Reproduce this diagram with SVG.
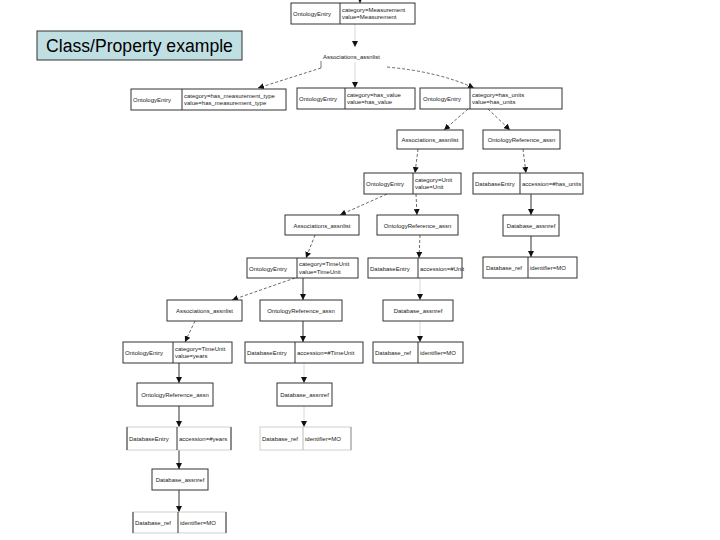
<svg xmlns="http://www.w3.org/2000/svg" width="720" height="540" viewBox="0 0 720 540">
<style>
.box{fill:#fff;stroke:#333;stroke-width:1}
.faintbox{fill:#fff;stroke:#d0d0d0;stroke-width:1}
.div{stroke:#333;stroke-width:1}
.t{font-family:"Liberation Sans",Arial,sans-serif;font-size:6px;fill:#222}
.c{text-anchor:middle}
.dash{fill:none;stroke:#444;stroke-width:0.8;stroke-dasharray:3,2;marker-end:url(#ah)}
.solid{fill:none;stroke:#333;stroke-width:1;marker-end:url(#ah)}
.faint{fill:none;stroke:#d8d8d8;stroke-width:1;marker-end:url(#ah)}
.plain{fill:none;stroke:#555;stroke-width:0.8}
</style>
<defs>
<marker id="ah" markerUnits="userSpaceOnUse" markerWidth="6" markerHeight="6" refX="6" refY="3" orient="auto">
<path d="M0,0 L6,3 L0,6 z" fill="#111"/>
</marker>
</defs>
<rect width="720" height="540" fill="#fff"/>

<g id="title">
<rect x="37" y="31" width="205" height="29" fill="#c0dfe3" stroke="#333" stroke-width="1"/>
<text x="139.5" y="52" text-anchor="middle" font-family="'Liberation Sans',Arial,sans-serif" font-size="17.6" fill="#000">Class/Property example</text>
</g>

<g id="connectors">
<path class="solid" d="M360,-4 L360,3"/>
<path class="faint" d="M355,24 L355,47"/>
<path class="plain" d="M321,61 L321,68"/>
<path class="dash" d="M321,68 L258,88"/>
<path class="faint" d="M355,62 L355,88"/>
<path class="dash" d="M387,67 Q440,72 474,88"/>
<path class="dash" d="M468,109 L444,130"/>
<path class="dash" d="M488,109 L510,130"/>
<path class="dash" d="M418,149 L415,173"/>
<path class="dash" d="M523,149 L526,173"/>
<path class="dash" d="M387,194 L340,215"/>
<path class="dash" d="M416,194 L417,215"/>
<path class="solid" d="M531,194 L531,215"/>
<path class="dash" d="M315,235 L306,258"/>
<path class="dash" d="M420,235 L419,258"/>
<path class="solid" d="M531,236 L531,257"/>
<path class="dash" d="M295,278 L232,300"/>
<path class="solid" d="M303,278 L303,300"/>
<path class="faint" d="M420,278 L420,300"/>
<path class="dash" d="M195,321 L185,342"/>
<path class="solid" d="M303,321 L303,342"/>
<path class="faint" d="M420,321 L420,342"/>
<path class="solid" d="M179,363 L179,383"/>
<path class="faint" d="M304,363 L304,383"/>
<path class="solid" d="M179,406 L179,427"/>
<path class="faint" d="M304,406 L304,427"/>
<path class="solid" d="M179,450 L179,469"/>
<path class="solid" d="M179,490 L179,512"/>
</g>

<g id="n1">
<rect class="box" x="291" y="3" width="124" height="21"/>
<line class="div" x1="340" y1="3" x2="340" y2="24"/>
<text class="t" x="293" y="16">OntologyEntry</text>
<text class="t" x="342" y="11.5">category=Measurement</text>
<text class="t" x="342" y="19">value=Measurement</text>
</g>

<g id="n_assn_top">
<text class="t" x="323" y="59">Associations_assnlist</text>
</g>

<g id="n_a">
<rect class="box" x="131" y="89" width="155" height="21"/>
<line class="div" x1="182" y1="89" x2="182" y2="110"/>
<text class="t" x="133" y="102">OntologyEntry</text>
<text class="t" x="184" y="97.5">category=has_measurement_type</text>
<text class="t" x="184" y="105">value=has_measurement_type</text>
</g>

<g id="n_b">
<rect class="box" x="297" y="88" width="118" height="21"/>
<line class="div" x1="345" y1="88" x2="345" y2="109"/>
<text class="t" x="299" y="101">OntologyEntry</text>
<text class="t" x="347" y="96.5">category=has_value</text>
<text class="t" x="347" y="104">value=has_value</text>
</g>

<g id="n_c">
<rect class="box" x="420" y="88" width="142" height="21"/>
<line class="div" x1="470" y1="88" x2="470" y2="109"/>
<text class="t" x="423" y="101">OntologyEntry</text>
<text class="t" x="472" y="96.5">category=has_units</text>
<text class="t" x="472" y="104">value=has_units</text>
</g>

<g id="n_d">
<rect class="box" x="397" y="130" width="66" height="19"/>
<text class="t c" x="430" y="142">Associations_assnlist</text>
</g>

<g id="n_e">
<rect class="box" x="483" y="130" width="77" height="19"/>
<text class="t c" x="521.5" y="142">OntologyReference_assn</text>
</g>

<g id="n_f">
<rect class="box" x="364" y="173" width="97" height="21"/>
<line class="div" x1="413" y1="173" x2="413" y2="194"/>
<text class="t" x="366" y="186">OntologyEntry</text>
<text class="t" x="415" y="181.5">category=Unit</text>
<text class="t" x="415" y="189">value=Unit</text>
</g>

<g id="n_g">
<rect class="box" x="473" y="173" width="110" height="21"/>
<line class="div" x1="520" y1="173" x2="520" y2="194"/>
<text class="t" x="475" y="186">DatabaseEntry</text>
<text class="t" x="522" y="186">accession=#has_units</text>
</g>

<g id="n_h">
<rect class="box" x="285" y="215" width="74" height="20"/>
<text class="t c" x="322" y="227.5">Associations_assnlist</text>
</g>

<g id="n_i">
<rect class="box" x="377" y="215" width="81" height="20"/>
<text class="t c" x="417.5" y="227.5">OntologyReference_assn</text>
</g>

<g id="n_j">
<rect class="box" x="503" y="215" width="56" height="21"/>
<text class="t c" x="531" y="228">Database_assnref</text>
</g>

<g id="n_k">
<rect class="box" x="247" y="258" width="111" height="20"/>
<line class="div" x1="297" y1="258" x2="297" y2="278"/>
<text class="t" x="249" y="270.5">OntologyEntry</text>
<text class="t" x="299" y="266">category=TimeUnit</text>
<text class="t" x="299" y="273.5">value=TimeUnit</text>
</g>

<g id="n_l">
<rect class="box" x="368" y="258" width="94" height="20"/>
<line class="div" x1="418" y1="258" x2="418" y2="278"/>
<text class="t" x="370" y="270.5">DatabaseEntry</text>
<text class="t" x="420" y="270.5">accession=#Unit</text>
</g>

<g id="n_m">
<rect class="box" x="483" y="257" width="94" height="21"/>
<line class="div" x1="528" y1="257" x2="528" y2="278"/>
<text class="t" x="486" y="270">Database_ref</text>
<text class="t" x="530" y="270">identifier=MO</text>
</g>

<g id="n_n">
<rect class="box" x="167" y="300" width="75" height="21"/>
<text class="t c" x="204.5" y="313">Associations_assnlist</text>
</g>

<g id="n_o">
<rect class="box" x="260" y="300" width="82" height="21"/>
<text class="t c" x="301" y="313">OntologyReference_assn</text>
</g>

<g id="n_p">
<rect class="box" x="383" y="300" width="70" height="21"/>
<text class="t c" x="418" y="313">Database_assnref</text>
</g>

<g id="n_q">
<rect class="box" x="123" y="342" width="109" height="21"/>
<line class="div" x1="173" y1="342" x2="173" y2="363"/>
<text class="t" x="125" y="355">OntologyEntry</text>
<text class="t" x="175" y="350.5">category=TimeUnit</text>
<text class="t" x="175" y="358">value=years</text>
</g>

<g id="n_r">
<rect class="box" x="245" y="342" width="118" height="21"/>
<line class="div" x1="295" y1="342" x2="295" y2="363"/>
<text class="t" x="247" y="355">DatabaseEntry</text>
<text class="t" x="297" y="355">accession=#TimeUnit</text>
</g>

<g id="n_s">
<rect class="box" x="373" y="342" width="90" height="21"/>
<line class="div" x1="418" y1="342" x2="418" y2="363"/>
<text class="t" x="375" y="355">Database_ref</text>
<text class="t" x="420" y="355">identifier=MO</text>
</g>

<g id="n_t">
<rect class="box" x="137" y="383" width="76" height="23"/>
<text class="t c" x="175" y="397">OntologyReference_assn</text>
</g>

<g id="n_u">
<rect class="box" x="277" y="383" width="55" height="23"/>
<text class="t c" x="304.5" y="397">Database_assnref</text>
</g>

<g id="n_v">
<rect class="faintbox" x="127" y="427" width="104" height="23"/>
<line class="div" x1="127" y1="427" x2="127" y2="450"/>
<line class="div" x1="231" y1="427" x2="231" y2="450"/>
<line class="div" x1="177" y1="427" x2="177" y2="450"/>
<text class="t" x="129" y="441">DatabaseEntry</text>
<text class="t" x="179" y="441">accession=#years</text>
</g>

<g id="n_w">
<rect class="faintbox" x="260" y="427" width="91" height="23"/>
<line x1="303" y1="427" x2="303" y2="450" stroke="#bbb" stroke-width="1"/>
<line x1="351" y1="427" x2="351" y2="450" stroke="#999" stroke-width="1"/>
<text class="t" x="262" y="441">Database_ref</text>
<text class="t" x="305" y="441">identifier=MO</text>
</g>

<g id="n_x">
<rect class="box" x="152" y="469" width="56" height="21"/>
<text class="t c" x="180" y="482">Database_assnref</text>
</g>

<g id="n_y">
<rect class="faintbox" x="133" y="512" width="93" height="21"/>
<line class="div" x1="133" y1="512" x2="133" y2="533"/>
<line class="div" x1="226" y1="512" x2="226" y2="533"/>
<line class="div" x1="178" y1="512" x2="178" y2="533"/>
<text class="t" x="135" y="525">Database_ref</text>
<text class="t" x="180" y="525">identifier=MO</text>
</g>
</svg>
